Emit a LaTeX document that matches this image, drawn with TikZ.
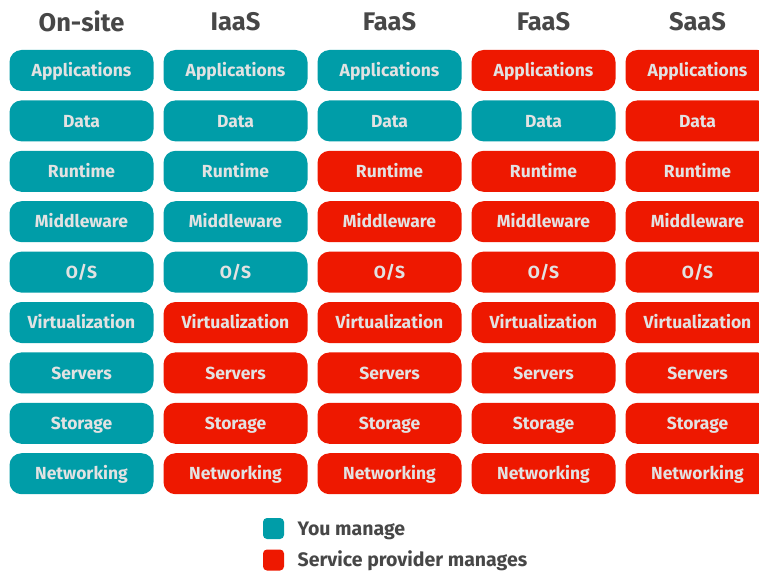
\documentclass[tikz,border=0pt]{standalone}
\usepackage{fontspec}
\setmainfont{Fira Sans}
\definecolor{youteal}{HTML}{009DA8}
\definecolor{provred}{HTML}{EE1800}
\definecolor{labelgray}{HTML}{E2E2E2}
\definecolor{headgray}{HTML}{474747}
\tikzset{
  layer/.style={rounded corners=12pt, minimum width=144pt, minimum height=41pt,
    inner sep=0pt, text height=12.5pt, text depth=-2.5pt, text=labelgray,
    font=\fontsize{17.5}{20}\selectfont\bfseries},
  mine/.style={layer, fill=youteal},
  theirs/.style={layer, fill=provred},
  colhead/.style={text=headgray, font=\fontsize{25.5}{28}\selectfont\bfseries},
  keybox/.style={rounded corners=4pt, minimum size=21pt, inner sep=0pt},
  keytext/.style={text=headgray, anchor=west, inner sep=0pt, text height=13pt,
    text depth=-2pt, font=\fontsize{19.5}{22}\selectfont\bfseries}
}
\begin{document}
\begin{tikzpicture}[x=1pt,y=-1pt]
\useasboundingbox (0,0) rectangle (759,572);
\clip (0,0) rectangle (759,572);
% column headings
\foreach \name [count=\c] in {On-site,IaaS,FaaS,FaaS,SaaS}
  \node[colhead] (head\c) at ({81.5+154*(\c-1)}, 21.5) {\name};
% stack layers; m = managed by you, p = managed by the provider
\foreach \layer/\kinds [count=\r] in {
    Applications/{m,m,m,p,p},
    Data/{m,m,m,m,p},
    Runtime/{m,m,p,p,p},
    Middleware/{m,m,p,p,p},
    O\slash S/{m,m,p,p,p},
    Virtualization/{m,p,p,p,p},
    Servers/{m,p,p,p,p},
    Storage/{m,p,p,p,p},
    Networking/{m,p,p,p,p}}
  \foreach \k [count=\c] in \kinds {
    \if m\k\def\st{mine}\else\def\st{theirs}\fi
    \node[\st] (cell\r-\c) at ({81.5+154*(\c-1)}, {70.5+50.4*(\r-1)}) {\layer};
  }
% key
\node[keybox, fill=youteal] (keymine) at (273.5, 528.5) {};
\node[keybox, fill=provred] (keytheirs) at (273.5, 560) {};
\node[keytext] (keymine-t) at (297.5, 529) {You manage};
\node[keytext] (keytheirs-t) at (297.5, 560) {Service provider manages};
\end{tikzpicture}
\end{document}
